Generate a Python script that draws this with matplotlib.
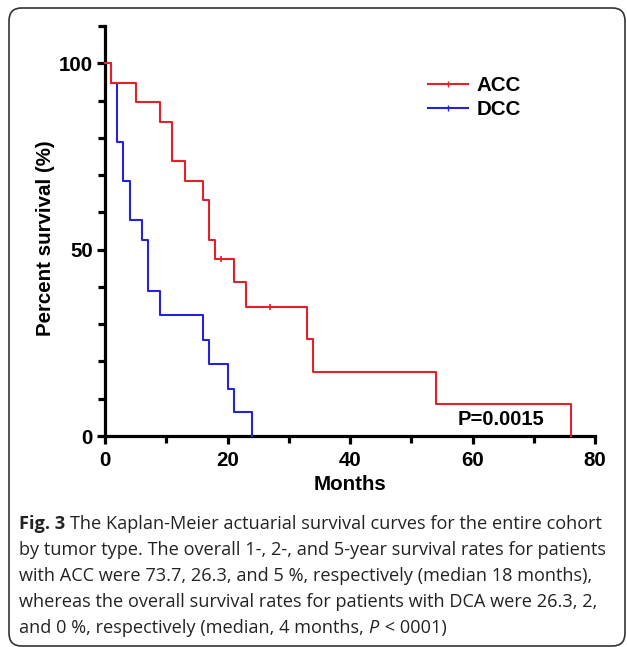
import matplotlib
matplotlib.use("Agg")
import matplotlib.pyplot as plt
from matplotlib.patches import FancyBboxPatch
from matplotlib.lines import Line2D
from matplotlib.ticker import MultipleLocator, FixedLocator

# ---- data ----
acc_times = [0, 1, 5, 9, 11, 13, 16, 17, 18, 21, 23, 33, 34, 54, 76]
acc_surv = [100, 94.7, 89.5, 84.2, 73.7, 68.4, 63.2, 52.6, 47.4, 41.4, 34.5, 25.9, 17.2, 8.6, 0]
acc_censor_t = [19, 27]
acc_censor_s = [47.4, 34.5]

dcc_times = [0, 1, 2, 3, 4, 6, 7, 9, 16, 17, 20, 21, 24]
dcc_surv = [100, 94.7, 78.9, 68.4, 57.9, 52.6, 39.0, 32.5, 25.8, 19.3, 12.6, 6.4, 0]

x_major = [0, 20, 40, 60, 80]
y_major = [0, 50, 100]

caption_lines = [
    "The Kaplan-Meier actuarial survival curves for the entire cohort",
    "by tumor type. The overall 1-, 2-, and 5-year survival rates for patients",
    "with ACC were 73.7, 26.3, and 5 %, respectively (median 18 months),",
    "whereas the overall survival rates for patients with DCA were 26.3, 2,",
]

RED = "#e0222b"
BLUE = "#2424d4"

W, H = 627, 647
fig = plt.figure(figsize=(W / 100, H / 100), dpi=100)
fig.patch.set_facecolor("white")

# rounded frame
frame = FancyBboxPatch((9 / W, 1 - 646 / H), (625 - 9) / W, (646 - 8) / H,
                       boxstyle="round,pad=0,rounding_size=0.02",
                       transform=fig.transFigure, fill=False,
                       edgecolor="#333333", linewidth=1.2, clip_on=False)
fig.add_artist(frame)

ax = fig.add_axes([105 / W, 1 - 436 / H, (595 - 105) / W, (436 - 26) / H])
ax.set_xlim(0, 80)
ax.set_ylim(0, 110)

ax.step(dcc_times, dcc_surv, where="post", color=BLUE, lw=1.5, zorder=3, clip_on=False)
ax.step(acc_times, acc_surv, where="post", color=RED, lw=1.5, zorder=4, clip_on=False)
ax.plot(acc_censor_t, acc_censor_s, ls="none", marker="|", ms=5, mew=1.2, color=RED, zorder=4)

for s in ["top", "right"]:
    ax.spines[s].set_visible(False)
for s in ["left", "bottom"]:
    ax.spines[s].set_linewidth(2.3)
ax.spines["bottom"].set_bounds(0, 80)
ax.spines["left"].set_bounds(0, 110)

FS = 14.8
bold = dict(family="Liberation Sans", weight="bold", size=FS)
ax.xaxis.set_major_locator(FixedLocator(x_major))
ax.xaxis.set_minor_locator(MultipleLocator(10))
ax.yaxis.set_major_locator(FixedLocator(y_major))
ax.yaxis.set_minor_locator(MultipleLocator(10))
ax.tick_params(which="both", direction="out", width=2.3, color="black")
ax.tick_params(which="major", length=5.8)
ax.tick_params(which="minor", length=4.8)
ax.tick_params(axis="x", which="major", pad=5)
ax.tick_params(axis="y", which="major", pad=3)
ax.set_xticklabels([str(v) for v in x_major], fontdict=bold)
ax.set_yticklabels([str(v) for v in y_major], fontdict=bold)

ax.set_xlabel("Months", fontdict=bold, labelpad=3.6)
ax.set_ylabel("Percent survival (%)", fontdict=bold)
ax.yaxis.set_label_coords(-0.102, 0.482)

handles = [Line2D([], [], color=RED, lw=1.5, marker="|", ms=4, mew=1),
           Line2D([], [], color=BLUE, lw=1.5, marker="|", ms=4, mew=1)]
ax.legend(handles, ["ACC", "DCC"], loc="upper left", bbox_to_anchor=(0.659, 0.878),
          frameon=False, prop=dict(family="Liberation Sans", weight="bold", size=FS),
          handlelength=1.95, handletextpad=0.4, labelspacing=0.25, borderaxespad=0,
          borderpad=0)

ax.text(71.8, 4.3, "P=0.0015", ha="right", va="center", family="Liberation Sans",
        weight="bold", size=14.5)

# caption
cap = dict(family="Open Sans", size=13.1, color="#222222")
y0 = 524
dy = 26
fig.text(19 / W, 1 - y0 / H, "Fig. 3", weight="bold", va="center", ha="left", **cap)
fig.canvas.draw()
t0 = fig.texts[-1]
bb = t0.get_window_extent()
fig.text((bb.x1 + 5) / W, 1 - y0 / H, caption_lines[0], va="center", ha="left", **cap)
for i, line in enumerate(caption_lines[1:], start=1):
    fig.text(19 / W, 1 - (y0 + i * dy) / H, line, va="center", ha="left", **cap)
fig.text(19 / W, 1 - (y0 + 4 * dy) / H, "and 0 %, respectively (median, 4 months, ",
         va="center", ha="left", **cap)
fig.canvas.draw()
bb = fig.texts[-1].get_window_extent()
fig.text(bb.x1 / W, 1 - (y0 + 4 * dy) / H, "P", style="italic", va="center", ha="left", **cap)
fig.canvas.draw()
bb = fig.texts[-1].get_window_extent()
fig.text((bb.x1 + 1) / W, 1 - (y0 + 4 * dy) / H, " < 0001)", va="center", ha="left", **cap)

fig.savefig("out.png", dpi=100)
